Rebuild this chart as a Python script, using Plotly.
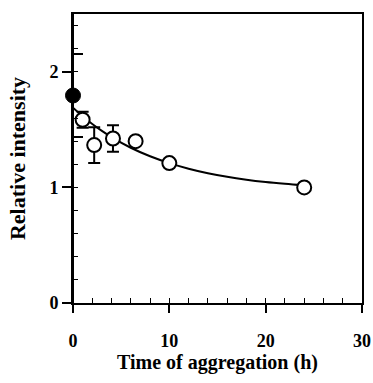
import plotly.graph_objects as go

# Open-circle data (time h, relative intensity, error)
time_open = [1.0, 2.2, 4.15, 6.5, 10.0, 24.0]
int_open = [1.585, 1.366, 1.423, 1.40, 1.21, 1.00]
err_open = [0.07, 0.155, 0.115, 0, 0, 0]

# Filled point
time_filled = [0.0]
int_filled = [1.795]
err_filled = [0.36]

# Fitted curve
fit_x = [0, 1, 2, 3, 4, 6, 8, 10, 12, 14, 16, 18, 20, 22, 24]
fit_y = [1.690, 1.616, 1.549, 1.489, 1.435, 1.343, 1.269, 1.210, 1.162,
         1.123, 1.092, 1.067, 1.047, 1.031, 1.017]

x_ticks = [0, 10, 20, 30]
y_ticks = [0, 1, 2]

font_family = "Times New Roman, Liberation Serif, serif"

fig = go.Figure()
fig.add_trace(go.Scatter(x=fit_x, y=fit_y, mode="lines", line=dict(color="black", width=2, shape="spline"),
                         showlegend=False, hoverinfo="skip"))
fig.add_trace(go.Scatter(x=time_open, y=int_open, mode="markers",
                         marker=dict(symbol="circle", size=14, color="white", line=dict(color="black", width=2)),
                         error_y=dict(type="data", array=err_open, color="black", thickness=2, width=6),
                         showlegend=False, cliponaxis=False))
fig.add_trace(go.Scatter(x=time_filled, y=int_filled, mode="markers",
                         marker=dict(symbol="circle", size=15, color="black", line=dict(color="black", width=1)),
                         error_y=dict(type="data", array=err_filled, color="black", thickness=2, width=10),
                         showlegend=False, cliponaxis=False))

# y-axis line redrawn on top so it covers the filled point's error stem
fig.add_shape(type="line", xref="x", yref="paper", x0=0, x1=0, y0=0, y1=1,
              line=dict(color="black", width=2), layer="above")

fig.update_layout(
    width=373, height=383,
    margin=dict(l=73, r=11, t=14, b=80, autoexpand=False),
    plot_bgcolor="white", paper_bgcolor="white",
    font=dict(family=font_family, color="black"),
    xaxis=dict(range=[0, 30], tickvals=x_ticks, ticktext=["<b>%d</b>" % v for v in x_ticks],
               showgrid=False, zeroline=False, showline=True, linecolor="black", linewidth=2,
               mirror=True, ticks="outside", ticklen=8, tickwidth=2, tickcolor="black", automargin=False,
               ticklabelstandoff=12,
               tickfont=dict(family=font_family, size=18, color="black"),
               minor=dict(dtick=2, ticks="inside", ticklen=5, tickwidth=1, tickcolor="black"),
               title=dict(text="<b>Time of aggregation (h)</b>", font=dict(family=font_family, size=20, color="black"),
                          standoff=0)),
    yaxis=dict(range=[0, 2.5], tickvals=y_ticks, ticktext=["<b>%d</b>" % v for v in y_ticks],
               showgrid=False, zeroline=False, showline=True, linecolor="black", linewidth=2,
               mirror=True, ticks="outside", ticklen=9, tickwidth=2, tickcolor="black", automargin=False,
               tickfont=dict(family=font_family, size=18, color="black"),
               minor=dict(dtick=0.2, ticks="inside", ticklen=5, tickwidth=1, tickcolor="black"),
               title=dict(text="<b>Relative intensity</b>", font=dict(family=font_family, size=22, color="black"),
                          standoff=18)),
)

fig.write_html("out.html")
